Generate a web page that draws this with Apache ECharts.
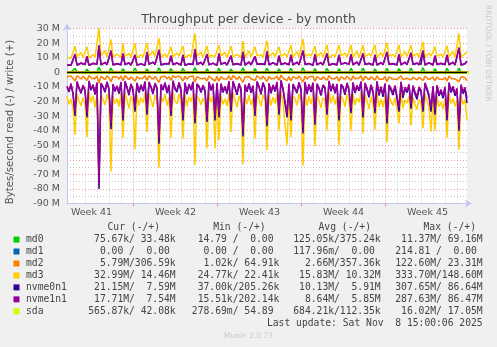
<!DOCTYPE html>
<html><head><meta charset="utf-8">
<script src="https://cdn.jsdelivr.net/npm/echarts@6/dist/echarts.min.js"></script>
<style>html,body{margin:0;padding:0;background:#f0f0f0}#c{width:497px;height:347px}</style>
</head><body><div id="c"></div>
<script>
// ---- time sampling (hours from left edge of the month view) ----
const sampleStepHours = 4;      // fine series
const coarseStepHours = 24;     // near-zero series
const axisMaxHours = 800;

// ---- x axis: week labels / boundaries ----
const weekLabels = ['Week 41', 'Week 42', 'Week 43', 'Week 44', 'Week 45'];
const weekLabelHours = [49, 217, 385, 553, 721];
const weekBoundaryHours = [133, 301, 469, 637];
const firstMidnightHour = 13;

// ---- series values, in M bytes/s (read negative, write positive) ----
const md3Write = [
10.2,11.5,9.8,10.4,
18.0,10.5,11.8,13.5,10.2,10.8,
17.5,9.9,10.6,12.2,10.0,11.0,
30.1,11.2,10.0,14.8,10.6,9.7,
22.6,10.4,11.0,12.5,11.6,10.1,
19.9,10.8,9.6,13.0,10.3,10.7,
19.9,10.1,11.4,12.0,10.5,9.9,
19.9,11.0,10.2,14.5,10.9,10.3,
23.3,10.2,10.9,12.7,10.1,11.2,
17.5,10.7,9.9,13.3,11.1,10.0,
18.0,10.0,11.3,12.1,10.4,10.8,
26.7,10.9,10.1,14.0,10.2,10.6,
18.0,10.3,11.7,12.6,10.8,9.8,
18.7,11.1,10.4,13.8,10.0,10.9,
18.0,10.6,9.8,12.3,11.3,10.2,
21.4,10.0,11.2,14.6,10.5,10.7,
17.5,11.3,10.5,12.0,10.1,11.0,
21.6,10.4,11.0,13.4,10.9,10.0,
17.5,10.9,9.7,12.8,10.3,10.6,
18.7,10.2,11.5,14.2,10.6,10.4,
22.8,11.0,10.3,12.4,11.0,9.9,
18.0,10.5,11.1,13.7,10.2,10.8,
18.7,9.9,10.7,12.2,10.7,10.3,
18.7,11.2,10.0,13.1,10.4,11.1,
18.7,10.3,11.6,14.4,10.0,10.5,
18.7,10.8,10.2,12.6,11.2,10.1,
18.7,10.1,11.0,13.5,10.6,10.9,
20.3,11.1,10.4,12.1,10.3,10.4,
18.7,10.4,11.3,14.1,10.8,10.0,
18.7,10.9,9.8,12.9,10.1,11.0,
21.0,10.2,11.4,13.2,11.0,10.3,
17.5,11.0,10.6,12.4,10.4,10.8,
18.2,10.5,11.1,14.3,10.2,10.6,
26.7,10.1,11.5,12.0,14.0
];
const md3Read = [
-16.5,-22.0,-18.4,-24.5,
-43.0,-14.8,-19.5,-23.0,-17.2,-21.4,
-44.5,-13.6,-20.8,-16.0,-24.2,-15.5,
-78.0,-15.2,-18.6,-22.4,-14.9,-19.8,
-68.0,-16.4,-21.5,-18.0,-23.6,-14.2,
-45.0,-13.8,-19.2,-24.8,-16.5,-20.4,
-52.5,-15.6,-22.6,-17.4,-21.0,-13.9,
-41.0,-14.4,-18.8,-23.8,-15.8,-19.6,
-65.5,-16.8,-20.2,-15.2,-22.8,-17.0,
-45.0,-13.5,-19.8,-21.6,-14.6,-20.8,
-45.5,-15.0,-23.4,-16.8,-20.0,-14.8,
-63.5,-16.2,-18.4,-22.2,-17.6,-21.2,
-52.0,-14.2,-20.6,-16.4,-52.0,-15.4,
-46.6,-15.8,-22.0,-18.2,-23.2,-14.0,
-41.0,-13.9,-19.0,-24.0,-16.2,-20.6,
-63.0,-16.6,-21.8,-15.6,-22.4,-17.8,
-45.5,-14.0,-18.2,-23.4,-15.2,-19.4,
-53.4,-15.4,-22.8,-17.0,-21.4,-14.4,
-40.0,-13.2,-20.4,-19.2,-50.0,-16.0,
-44.3,-16.0,-18.0,-22.6,-14.8,-20.0,
-64.0,-14.6,-23.0,-16.6,-21.8,-15.0,
-50.5,-15.8,-19.4,-24.4,-17.4,-19.0,
-40.0,-13.4,-21.2,-15.8,-22.2,-16.6,
-50.0,-16.2,-18.6,-23.6,-15.0,-20.2,
-40.0,-14.8,-22.4,-17.6,-20.6,-13.8,
-42.0,-15.2,-19.6,-25.0,-16.8,-21.6,
-39.5,-13.6,-23.8,-18.4,-24.0,-15.6,
-48.0,-16.4,-20.0,-22.8,-17.2,-25.2,
-35.0,-14.0,-24.6,-19.0,-21.0,-16.4,
-36.5,-17.0,-22.2,-25.4,-18.6,-20.8,
-38.4,-15.0,-19.6,-24.2,-40.7,-17.4,
-40.0,-16.6,-23.6,-20.4,-25.0,-18.0,
-45.0,-14.6,-21.4,-17.8,-23.4,-19.2,
-53.0,-16.0,-22.0,-18.8,-33.0
];
const nvme1Read = [
-9.5,-12.8,-7.6,-14.2,
-27.0,-6.2,-10.4,-13.6,-8.8,-12.0,
-28.0,-5.8,-11.6,-8.4,-14.4,-7.0,
-76.0,-7.4,-9.6,-12.8,-6.4,-11.2,
-35.0,-8.0,-12.4,-9.2,-13.8,-6.6,
-30.0,-6.0,-10.0,-14.8,-7.8,-11.8,
-24.0,-7.2,-13.2,-8.6,-12.2,-6.2,
-26.0,-6.6,-9.8,-14.0,-7.4,-10.8,
-45.0,-8.2,-11.4,-7.0,-13.4,-8.6,
-27.0,-5.6,-10.8,-12.6,-6.8,-12.0,
-30.0,-7.0,-14.0,-8.0,-11.6,-6.4,
-32.0,-7.8,-9.4,-13.0,-8.8,-12.4,
-31.0,-6.4,-11.8,-7.8,-30.0,-7.2,
-28.0,-7.6,-13.0,-9.6,-13.8,-6.0,
-24.0,-6.0,-10.2,-14.6,-7.6,-11.6,
-40.0,-8.4,-12.6,-7.4,-13.2,-9.0,
-27.0,-6.2,-9.6,-14.2,-7.0,-10.6,
-34.0,-7.4,-13.6,-8.6,-12.4,-6.6,
-26.0,-5.4,-11.2,-10.0,-28.0,-7.8,
-30.0,-8.0,-9.2,-13.4,-6.8,-11.4,
-38.0,-6.6,-14.0,-8.2,-12.8,-7.0,
-33.0,-7.8,-10.6,-15.0,-8.6,-10.2,
-26.0,-5.8,-12.2,-7.8,-13.6,-8.0,
-30.0,-8.2,-9.8,-14.4,-7.2,-11.6,
-25.0,-6.8,-13.4,-9.0,-12.0,-6.2,
-28.0,-7.2,-10.8,-15.6,-8.4,-12.8,
-25.0,-6.0,-14.6,-9.8,-15.2,-7.6,
-32.0,-8.6,-11.2,-14.0,-9.0,-16.4,
-24.0,-6.4,-15.8,-10.2,-12.6,-8.2,
-22.0,-9.0,-13.4,-16.8,-10.0,-12.2,
-24.0,-7.2,-11.0,-15.4,-24.0,-9.4,
-26.0,-8.8,-14.8,-11.8,-16.2,-9.8,
-30.0,-7.0,-12.6,-9.6,-14.6,-11.0,
-37.0,-8.4,-13.2,-10.4,-17.7
];
const nvme0Read = [
-10.1,-13.5,-8.2,-15.0,
-30.0,-6.8,-11.1,-14.5,-9.3,-12.7,
-31.0,-6.3,-12.3,-9.0,-15.3,-7.6,
-80.0,-8.0,-10.2,-13.7,-7.0,-11.9,
-39.0,-8.7,-13.2,-9.8,-14.7,-7.1,
-33.0,-6.6,-10.7,-15.7,-8.4,-12.5,
-27.0,-7.8,-14.0,-9.2,-13.0,-6.8,
-29.0,-7.2,-10.5,-14.9,-8.0,-11.5,
-49.0,-8.8,-12.1,-7.6,-14.3,-9.2,
-30.0,-6.2,-11.5,-13.5,-7.4,-12.8,
-33.0,-7.6,-14.9,-8.6,-12.3,-7.0,
-35.0,-8.4,-10.1,-13.9,-9.4,-13.2,
-34.0,-7.0,-12.5,-8.4,-33.0,-7.8,
-31.0,-8.2,-13.9,-10.2,-14.7,-6.6,
-27.0,-6.6,-10.9,-15.5,-8.2,-12.3,
-44.0,-9.0,-13.4,-8.0,-14.1,-9.6,
-30.0,-6.8,-10.3,-15.1,-7.6,-11.3,
-37.0,-8.0,-14.5,-9.2,-13.2,-7.2,
-29.0,-6.0,-11.9,-10.7,-31.0,-8.4,
-33.0,-8.6,-9.9,-14.3,-7.4,-12.1,
-42.0,-7.2,-14.9,-8.8,-13.6,-7.6,
-36.0,-8.4,-11.3,-16.0,-9.2,-10.9,
-29.0,-6.4,-13.0,-8.4,-14.5,-8.6,
-33.0,-8.8,-10.5,-15.4,-7.8,-12.4,
-28.0,-7.4,-14.3,-9.7,-12.8,-6.8,
-31.0,-7.9,-11.8,-17.2,-9.2,-14.0,
-28.0,-6.7,-16.0,-10.7,-16.8,-8.3,
-35.0,-9.4,-12.3,-15.6,-9.9,-18.2,
-27.0,-7.1,-17.5,-11.2,-13.9,-9.0,
-25.0,-9.9,-14.8,-18.6,-11.0,-13.4,
-27.0,-7.9,-12.1,-17.0,-27.0,-10.3,
-29.0,-9.7,-16.3,-13.0,-17.9,-10.8,
-33.0,-7.7,-13.9,-10.6,-16.1,-12.1,
-40.0,-9.2,-14.6,-11.5,-21.2
];
const nvme1Write = [
5.2,5.8,4.9,6.0,
12.5,5.0,5.6,6.4,5.1,5.5,
11.0,4.8,5.4,6.2,4.9,5.7,
18.7,5.3,5.0,6.8,5.4,4.9,
15.0,5.1,5.7,6.0,5.6,5.2,
13.0,5.5,4.8,6.6,5.0,5.4,
12.0,5.0,5.9,5.8,5.3,4.9,
14.0,5.6,5.1,7.0,5.5,5.1,
15.5,5.1,5.6,6.1,5.0,5.8,
11.5,5.4,4.9,6.5,5.6,5.0,
12.0,4.9,5.7,5.9,5.2,5.5,
16.0,5.5,5.0,6.9,5.1,5.3,
12.5,5.2,5.8,6.3,5.4,4.8,
13.0,5.6,5.2,6.7,5.0,5.5,
11.5,5.3,4.8,6.0,5.7,5.1,
14.0,5.0,5.6,7.1,5.2,5.4,
11.0,5.7,5.3,5.9,5.0,5.6,
14.5,5.2,5.5,6.6,5.5,5.0,
11.5,5.5,4.9,6.4,5.1,5.3,
12.0,5.1,5.8,7.0,5.3,5.2,
15.0,5.6,5.2,6.1,5.6,4.9,
12.5,5.3,5.6,6.8,5.1,5.5,
13.0,4.9,5.4,6.0,5.4,5.2,
12.0,5.6,5.0,6.5,5.2,5.6,
12.5,5.2,5.8,7.1,5.0,5.3,
13.0,5.5,5.1,6.2,5.6,5.0,
12.0,5.0,5.5,6.7,5.3,5.5,
14.0,5.6,5.2,6.0,5.1,5.2,
12.5,5.2,5.7,7.0,5.4,5.0,
13.5,5.5,4.9,6.4,5.0,5.6,
15.0,5.1,5.7,6.6,5.5,5.1,
11.5,5.5,5.3,6.2,5.2,5.4,
12.0,5.3,5.6,7.0,5.1,5.3,
17.0,5.0,5.8,6.0,7.5
];
const nvme0Write = [
5.0,5.6,4.8,5.8,
12.0,4.9,5.4,6.2,5.0,5.3,
10.6,4.7,5.2,6.0,4.8,5.5,
18.0,5.1,4.9,6.6,5.2,4.8,
14.4,5.0,5.5,5.8,5.4,5.1,
12.6,5.3,4.7,6.4,4.9,5.2,
11.6,4.9,5.7,5.6,5.1,4.8,
13.5,5.4,5.0,6.8,5.3,5.0,
15.0,5.0,5.4,5.9,4.9,5.6,
11.0,5.2,4.8,6.3,5.4,4.9,
11.6,4.8,5.5,5.7,5.1,5.3,
15.4,5.3,4.9,6.7,5.0,5.1,
12.0,5.1,5.6,6.1,5.2,4.7,
12.5,5.4,5.1,6.5,4.9,5.3,
11.0,5.1,4.7,5.8,5.5,5.0,
13.5,4.9,5.4,6.9,5.1,5.2,
10.6,5.5,5.1,5.7,4.9,5.4,
14.0,5.0,5.3,6.4,5.3,4.9,
11.0,5.3,4.8,6.2,5.0,5.1,
11.6,5.0,5.6,6.8,5.1,5.0,
14.5,5.4,5.0,5.9,5.4,4.8,
12.0,5.1,5.4,6.6,5.0,5.3,
12.5,4.8,5.2,5.8,5.2,5.0,
11.6,5.4,4.9,6.3,5.0,5.4,
12.0,5.0,5.6,6.9,4.9,5.1,
12.5,5.3,5.0,6.0,5.4,4.9,
11.6,4.9,5.3,6.5,5.1,5.3,
13.5,5.4,5.0,5.8,5.0,5.0,
12.0,5.0,5.5,6.8,5.2,4.9,
13.0,5.3,4.8,6.2,4.9,5.4,
14.5,5.0,5.5,6.4,5.3,5.0,
11.0,5.3,5.1,6.0,5.0,5.2,
11.6,5.1,5.4,6.8,5.0,5.1,
16.5,4.9,5.6,5.8,7.6
];
const md2Read = [
-3.0,-3.8,-2.6,-4.2,
-6.0,-2.4,-3.4,-4.6,-2.8,-3.6,
-5.6,-2.2,-3.8,-3.0,-4.4,-2.6,
-7.5,-2.8,-3.2,-4.8,-2.4,-3.9,
-6.4,-3.0,-4.0,-3.2,-4.6,-2.5,
-5.8,-2.3,-3.5,-4.9,-3.1,-3.7,
-6.2,-2.9,-4.3,-3.0,-4.0,-2.4,
-5.4,-2.5,-3.3,-4.7,-2.9,-3.8,
-6.8,-3.1,-4.1,-2.8,-4.5,-3.0,
-5.5,-2.2,-3.6,-4.3,-2.6,-4.0,
-6.0,-2.7,-4.6,-3.1,-3.9,-2.5,
-6.6,-3.0,-3.2,-4.4,-3.3,-4.1,
-5.9,-2.5,-3.9,-2.9,-6.0,-2.8,
-6.1,-2.9,-4.4,-3.5,-4.6,-2.4,
-5.3,-2.3,-3.4,-4.8,-2.8,-3.9,
-6.9,-3.2,-4.2,-2.9,-4.4,-3.3,
-5.6,-2.4,-3.3,-4.6,-2.7,-3.6,
-6.3,-2.8,-4.5,-3.2,-4.1,-2.6,
-5.4,-2.1,-3.8,-3.6,-5.8,-3.0,
-6.0,-3.0,-3.3,-4.4,-2.6,-3.8,
-6.7,-2.6,-4.6,-3.1,-4.2,-2.7,
-6.2,-2.9,-3.7,-4.9,-3.2,-3.6,
-5.5,-2.3,-4.1,-3.0,-4.5,-3.0,
-6.1,-3.1,-3.5,-4.7,-2.7,-3.9,
-5.6,-2.6,-4.4,-3.3,-4.0,-2.4,
-5.9,-2.8,-3.8,-5.0,-3.1,-4.2,
-5.4,-2.4,-4.7,-3.5,-4.8,-2.9,
-6.4,-3.2,-3.9,-4.6,-3.3,-5.0,
-5.3,-2.5,-4.9,-3.6,-4.1,-3.1,
-5.2,-3.3,-4.3,-5.2,-3.5,-4.0,
-5.5,-2.7,-3.8,-4.9,-5.6,-3.4,
-5.8,-3.2,-4.6,-3.9,-5.0,-3.5,
-6.0,-2.6,-4.1,-3.4,-4.6,-3.7,
-6.5,-3.0,-4.3,-3.6,-5.8
];
const md0Write = [
0.1,0.1,0.2,0.1,
2.6,0.3,0.1,0.1,0.2,0.1,
2.2,0.3,0.1,0.1,0.2,0.1,
3.4,0.3,0.1,0.1,0.2,0.1,
2.8,0.3,0.1,0.1,0.2,0.1,
2.4,0.3,0.1,0.1,0.2,0.1,
2.9,0.3,0.1,0.1,0.2,0.1,
2.3,0.3,0.1,0.1,0.2,0.1,
3.1,0.3,0.1,0.1,0.2,0.1,
2.5,0.3,0.1,0.1,0.2,0.1,
2.7,0.3,0.1,0.1,0.2,0.1,
3.2,0.3,0.1,0.1,0.2,0.1,
2.4,0.3,0.1,0.1,0.2,0.1,
2.6,0.3,0.1,0.1,0.2,0.1,
2.2,0.3,0.1,0.1,0.2,0.1,
3.0,0.3,0.1,0.1,0.2,0.1,
2.5,0.3,0.1,0.1,0.2,0.1,
2.8,0.3,0.1,0.1,0.2,0.1,
2.3,0.3,0.1,0.1,0.2,0.1,
2.6,0.3,0.1,0.1,0.2,0.1,
3.1,0.3,0.1,0.1,0.2,0.1,
2.5,0.3,0.1,0.1,0.2,0.1,
2.7,0.3,0.1,0.1,0.2,0.1,
2.4,0.3,0.1,0.1,0.2,0.1,
2.6,0.3,0.1,0.1,0.2,0.1,
2.9,0.3,0.1,0.1,0.2,0.1,
2.3,0.3,0.1,0.1,0.2,0.1,
2.7,0.3,0.1,0.1,0.2,0.1,
2.5,0.3,0.1,0.1,0.2,0.1,
2.8,0.3,0.1,0.1,0.2,0.1,
3.0,0.3,0.1,0.1,0.2,0.1,
2.4,0.3,0.1,0.1,0.2,0.1,
2.6,0.3,0.1,0.1,0.2,0.1,
2.9,0.3,0.1,0.1,0.1
];
// coarse (daily) near-zero series
const md0Read  = [-0.1,-0.1,-0.2,-0.1,-0.1,-0.1,-0.2,-0.1,-0.1,-0.1,-0.1,-0.2,-0.1,-0.1,-0.1,-0.1,-0.2,-0.1,-0.1,-0.1,-0.1,-0.1,-0.2,-0.1,-0.1,-0.1,-0.1,-0.2,-0.1,-0.1,-0.1,-0.1,-0.1,-0.1,-0.1];
const md2Write = [0.3,0.4,0.3,0.35,0.5,0.3,0.4,0.3,0.3,0.45,0.35,0.3,0.4,0.3,0.5,0.35,0.3,0.4,0.3,0.35,0.45,0.3,0.4,0.3,0.35,0.3,0.4,0.5,0.3,0.35,0.4,0.3,0.35,0.3,0.3];
const sdaWrite = [0.1,0.1,0.12,0.1,0.1,0.15,0.1,0.1,0.1,0.12,0.1,0.1,0.1,0.1,0.15,0.1,0.1,0.12,0.1,0.1,0.1,0.1,0.1,0.12,0.1,0.1,0.1,0.15,0.1,0.1,0.12,0.1,0.1,0.1,0.05];
const sdaRead  = [-0.6,-0.7,-0.8,-0.6,-0.7,-0.6,-0.9,-0.7,-0.6,-0.7,-0.8,-0.6,-0.7,-0.6,-0.7,-0.8,-0.6,-0.7,-0.6,-0.7,-0.9,-0.6,-0.7,-0.6,-0.8,-0.7,-0.6,-0.7,-0.6,-0.8,-0.7,-0.6,-0.7,-0.6,-0.6];
const md1Hours = [0, 800];
const md1Read = [0, 0];
const md1Write = [0, 0];

// ---- legend table ----
const legendNames  = ['md0', 'md1', 'md2', 'md3', 'nvme0n1', 'nvme1n1', 'sda'];
const legendColors = ['#00CC00', '#0066B3', '#FF8000', '#FFCC00', '#330099', '#990099', '#CCFF00'];
const legendCur = ['75.67k/ 33.48k', '0.00 /  0.00 ', '5.79M/306.59k', '32.99M/ 14.46M', '21.15M/  7.59M', '17.71M/  7.54M', '565.87k/ 42.08k'];
const legendMin = ['14.79 /  0.00 ', '0.00 /  0.00 ', '1.02k/ 64.91k', '24.77k/ 22.41k', '37.00k/205.26k', '15.51k/202.14k', '278.69m/ 54.89 '];
const legendAvg = ['125.05k/375.24k', '117.96m/  0.00 ', '2.66M/357.36k', '15.83M/ 10.32M', '10.13M/  5.91M', '8.64M/  5.85M', '684.21k/112.35k'];
const legendMax = ['11.37M/ 69.16M', '214.81 /  0.00 ', '122.60M/ 23.31M', '333.70M/148.60M', '307.65M/ 86.64M', '287.63M/ 86.47M', '16.02M/ 17.05M'];
const legendHeaders = ['Cur (-/+)', 'Min (-/+)', 'Avg (-/+)', 'Max (-/+)'];
const lastUpdateText = 'Last update: Sat Nov  8 15:00:06 2025';
const titleText = 'Throughput per device - by month';
const yAxisTitle = 'Bytes/second read (-) / write (+)';
const sideText = 'RRDTOOL / TOBI OETIKER';
const footerText = 'Munin 2.0.73';

// ---- build ----
function pts(values, step) { return values.map((v, i) => [i * step, v * 1e6]); }
function ptsAt(hours, values) { return values.map((v, i) => [hours[i], v * 1e6]); }

const seriesDefs = [
  ['md0', md0Read, coarseStepHours, 0], ['md0', md0Write, sampleStepHours, 0],
  ['md1', md1Read, null, 1], ['md1', md1Write, null, 1],
  ['md2', md2Read, sampleStepHours, 2], ['md2', md2Write, coarseStepHours, 2],
  ['md3', md3Read, sampleStepHours, 3], ['md3', md3Write, sampleStepHours, 3],
  ['nvme0n1', nvme0Read, sampleStepHours, 4], ['nvme0n1', nvme0Write, sampleStepHours, 4],
  ['nvme1n1', nvme1Read, sampleStepHours, 5], ['nvme1n1', nvme1Write, sampleStepHours, 5],
  ['sda', sdaRead, coarseStepHours, 6], ['sda', sdaWrite, coarseStepHours, 6]
];

const majorColor = 'rgba(235,120,120,0.75)';
const minorColor = 'rgba(190,190,190,0.8)';

const gridLines = [];
for (let h = firstMidnightHour; h < axisMaxHours; h += 24) {
  const major = weekBoundaryHours.indexOf(h) >= 0;
  gridLines.push({ xAxis: h, lineStyle: { color: major ? majorColor : minorColor, type: [1, 2], width: 1 } });
}

const series = [{
  type: 'line', data: [], silent: true,
  markLine: { silent: true, symbol: ['none', 'none'], label: { show: false }, z: 1, animation: false, data: gridLines }
}];
seriesDefs.forEach(([name, vals, step, ci]) => {
  series.push({
    name, type: 'line', showSymbol: false, symbol: 'none', silent: true, animation: false,
    lineStyle: { color: legendColors[ci], width: 1.5 },
    itemStyle: { color: legendColors[ci] },
    data: step === null ? ptsAt(md1Hours, vals) : pts(vals, step)
  });
});
series.push({
  type: 'line', data: [], silent: true,
  markLine: { silent: true, symbol: ['none', 'none'], label: { show: false }, z: 10, animation: false,
    data: [{ yAxis: 0, lineStyle: { color: '#000', width: 1.4, type: 'solid' } }] }
});

const mono = '"DejaVu Sans Mono", monospace';
const sans = '"DejaVu Sans", sans-serif';
const legendTextColor = '#444';
const graphics = [];
function txt(x, y, text, font, fill, align, rot) {
  graphics.push({ type: 'text', x, y, rotation: rot || 0, silent: true,
    style: { text, font, fill, align, verticalAlign: 'middle', textAlign: align, textVerticalAlign: 'middle' } });
}
txt(248.5, 19.5, titleText, '12.5px ' + sans, '#4a4a4a', 'center');
txt(10.8, 122, yAxisTitle, '10.2px ' + sans, '#555', 'center', Math.PI / 2);
txt(487.5, 5, sideText, '7.5px ' + sans, '#c8c8c8', 'left', -Math.PI / 2);
const rowY0 = 227.6, rowDY = 11.96;
const headerRight = [160, 265.7, 371, 476];
const colRight = [175.7, 279.3, 380.7, 482.7];
legendHeaders.forEach((h, i) => txt(headerRight[i], rowY0, h, '9.7px ' + mono, legendTextColor, 'right'));
legendNames.forEach((n, i) => {
  const y = rowY0 + rowDY * (i + 1);
  graphics.push({ type: 'rect', silent: true, shape: { x: 13.5, y: y - 3, width: 6, height: 6 }, style: { fill: legendColors[i] } });
  txt(26, y, n, '9.7px ' + mono, legendTextColor, 'left');
  [legendCur, legendMin, legendAvg, legendMax].forEach((col, j) => txt(colRight[j], y, col[i], '9.7px ' + mono, legendTextColor, 'right'));
});
txt(482.7, rowY0 + rowDY * 8, lastUpdateText, '9.7px ' + mono, legendTextColor, 'right');
txt(248.5, 335.7, footerText, '7.5px ' + sans, '#c8c8c8', 'center');

const option = {
  backgroundColor: '#f0f0f0',
  animation: false,
  grid: { left: 67, right: 30, top: 28.5, bottom: 143.4, show: true, backgroundColor: '#ffffff', borderWidth: 0 },
  xAxis: {
    type: 'value', min: 0, max: axisMaxHours,
    axisLine: { onZero: false, lineStyle: { color: '#c4c6ee', width: 1 }, symbol: ['none', 'arrow'], symbolSize: [6, 7], symbolOffset: [0, 5] },
    axisTick: { show: true, customValues: weekBoundaryHours, length: 3, lineStyle: { color: majorColor } },
    axisLabel: { customValues: weekLabelHours, formatter: v => weekLabels[weekLabelHours.indexOf(v)] || '', margin: 4,
      color: '#555', fontSize: 9.5, fontFamily: sans },
    splitLine: { show: false }
  },
  yAxis: {
    type: 'value', min: -90e6, max: 30e6, interval: 5e6,
    axisLine: { show: true, onZero: false, lineStyle: { color: '#c4c6ee', width: 1 }, symbol: ['none', 'arrow'], symbolSize: [6, 7], symbolOffset: [0, 5] },
    axisTick: { show: false },
    axisLabel: { margin: 7, color: '#555', fontSize: 9.5, fontFamily: sans,
      formatter: v => { const m = Math.round(v / 1e6); if (m % 10 !== 0) return ''; return m === 0 ? '0' : m + ' M'; } },
    splitLine: { show: true, lineStyle: { color: [majorColor, minorColor], type: [1, 2], width: 1 } }
  },
  graphic: graphics,
  series
};
const chart = echarts.init(document.getElementById('c'), null, { renderer: 'canvas' });
chart.setOption(option);
</script></body></html>
